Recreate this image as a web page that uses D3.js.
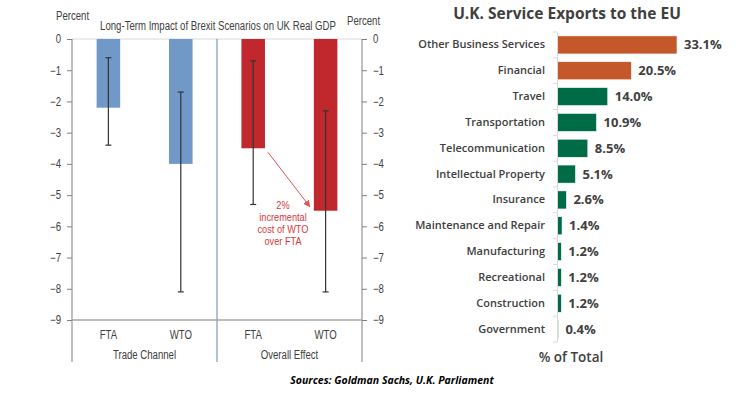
<!DOCTYPE html>
<html>
<head>
<meta charset="utf-8">
<script src="https://cdn.jsdelivr.net/npm/d3@7"></script>
<style>
  body { margin: 0; background: #fff; }
  svg text { fill: #404040; }
  .gdp text { font-family: "Liberation Sans Narrow", "Arial Narrow", "Liberation Sans", sans-serif; font-size: 11px; }
  .exp text { font-family: "Open Sans", sans-serif; }
</style>
</head>
<body>
<script>
// left chart: long-term GDP impact (percent)
var scenarios = ["FTA", "WTO", "FTA", "WTO"];
var groups = ["Trade Channel", "Overall Effect"];
var impact = [-2.2, -4.0, -3.5, -5.5];
var errHigh = [-0.6, -1.7, -0.7, -2.3];
var errLow = [-3.4, -8.1, -5.3, -8.1];
var gdpTicks = [0, -1, -2, -3, -4, -5, -6, -7, -8, -9];
var note = ["2%", "incremental", "cost of WTO", "over FTA"];

// right chart: service exports
var services = ["Other Business Services", "Financial", "Travel", "Transportation",
  "Telecommunication", "Intellectual Property", "Insurance", "Maintenance and Repair",
  "Manufacturing", "Recreational", "Construction", "Government"];
var shares = [33.1, 20.5, 14.0, 10.9, 8.5, 5.1, 2.6, 1.4, 1.2, 1.2, 1.2, 0.4];

var svg = d3.select("body").append("svg")
  .attr("width", 737)
  .attr("height", 393);

// ---- left chart ----
var g1 = svg.append("g").attr("class", "gdp");
var axL = 72, axR = 362, split = 217;
var y = d3.scaleLinear().domain([0, -9]).range([39, 320]);
var x = d3.scaleBand().domain(d3.range(4)).range([axL, axR]).paddingInner(0.675).paddingOuter(0.34);
var barCol = ["#7099c8", "#7099c8", "#c0282d", "#c0282d"];

g1.append("line").attr("x1", axL).attr("x2", axR).attr("y1", y(0)).attr("y2", y(0))
  .attr("stroke", "#d9d9d9");

g1.selectAll(".bar").data(impact).enter().append("rect")
  .attr("x", function(d, i) { return x(i); })
  .attr("y", y(0))
  .attr("width", x.bandwidth())
  .attr("height", function(d) { return y(d) - y(0); })
  .attr("fill", function(d, i) { return barCol[i]; });

// error bars
var eb = g1.selectAll(".err").data(impact).enter().append("g");
eb.append("line")
  .attr("x1", function(d, i) { return x(i) + x.bandwidth() / 2; })
  .attr("x2", function(d, i) { return x(i) + x.bandwidth() / 2; })
  .attr("y1", function(d, i) { return y(errHigh[i]); })
  .attr("y2", function(d, i) { return y(errLow[i]); })
  .attr("stroke", "#333").attr("stroke-width", 1.2);
[errHigh, errLow].forEach(function(arr) {
  eb.append("line")
    .attr("x1", function(d, i) { return x(i) + x.bandwidth() / 2 - 3; })
    .attr("x2", function(d, i) { return x(i) + x.bandwidth() / 2 + 3; })
    .attr("y1", function(d, i) { return y(arr[i]); })
    .attr("y2", function(d, i) { return y(arr[i]); })
    .attr("stroke", "#333").attr("stroke-width", 1.2);
});

var yl = g1.append("g").attr("transform", "translate(" + axL + ",0)")
  .call(d3.axisLeft(y).tickValues(gdpTicks).tickSize(5).tickPadding(6).tickFormat(d3.format("d")));
var yr = g1.append("g").attr("transform", "translate(" + axR + ",0)")
  .call(d3.axisRight(y).tickValues(gdpTicks).tickSize(5).tickPadding(6).tickFormat(d3.format("d")));
[yl, yr].forEach(function(a) {
  a.select(".domain").remove();
  a.selectAll("line").attr("stroke", "#808080");
  a.selectAll("text").style("font-size", "12px").attr("fill", "#404040");
});
// axis lines extend below the baseline
[axL, axR].forEach(function(px) {
  g1.append("line").attr("x1", px).attr("x2", px).attr("y1", y(0)).attr("y2", 362)
    .attr("stroke", "#808080");
});
g1.append("line").attr("x1", split).attr("x2", split).attr("y1", y(0)).attr("y2", 362)
  .attr("stroke", "#5b87b5");
g1.append("line").attr("x1", axL).attr("x2", axR).attr("y1", y(-9)).attr("y2", y(-9))
  .attr("stroke", "#a6a6a6").attr("stroke-width", 1.5);

g1.selectAll(".xl").data(scenarios).enter().append("text")
  .attr("x", function(d, i) { return x(i) + x.bandwidth() / 2; })
  .attr("y", 339)
  .attr("text-anchor", "middle")
  .style("font-size", "12px")
  .text(function(d) { return d; });
g1.selectAll(".gl").data(groups).enter().append("text")
  .attr("x", function(d, i) { return i === 0 ? (axL + split) / 2 : (split + axR) / 2; })
  .attr("y", 359)
  .attr("text-anchor", "middle")
  .style("font-size", "12px")
  .text(function(d) { return d; });

g1.append("text").attr("x", 56).attr("y", 20).style("font-size", "12px").text("Percent");
g1.append("text").attr("x", 347).attr("y", 25).style("font-size", "12px").text("Percent");
g1.append("text").attr("x", 218).attr("y", 30).attr("text-anchor", "middle")
  .style("font-size", "12px")
  .text("Long-Term Impact of Brexit Scenarios on UK Real GDP");

// annotation
svg.append("defs").append("marker")
  .attr("id", "arr").attr("viewBox", "0 0 10 10").attr("refX", 9).attr("refY", 5)
  .attr("markerWidth", 7).attr("markerHeight", 7).attr("orient", "auto")
  .append("path").attr("d", "M0,0L10,5L0,10z").attr("fill", "#e0555a");
g1.append("line")
  .attr("x1", x(2) + x.bandwidth() + 3).attr("y1", y(impact[2]) + 4)
  .attr("x2", x(3) - 4).attr("y2", y(impact[3]) - 4)
  .attr("stroke", "#e0555a").attr("stroke-width", 1)
  .attr("marker-end", "url(#arr)");
g1.selectAll(".ann").data(note).enter().append("text")
  .attr("x", 283)
  .attr("y", function(d, i) { return 209 + i * 12; })
  .attr("text-anchor", "middle")
  .style("font-size", "11.5px")
  .style("fill", "#d9373d")
  .text(function(d) { return d; });

// no narrow font installed: squeeze the left chart's texts
g1.selectAll("text").each(function() {
  var w = this.getComputedTextLength();
  d3.select(this).attr("textLength", w * 0.8).attr("lengthAdjust", "spacingAndGlyphs");
});

// ---- right chart ----
var g2 = svg.append("g").attr("class", "exp");
var bx = d3.scaleLinear().domain([0, 33.1]).range([557, 677]);
var by = d3.scaleBand().domain(services).range([32, 342]).paddingInner(0.3).paddingOuter(0.15);

g2.append("text").attr("x", 567).attr("y", 19).attr("text-anchor", "middle")
  .style("font-size", "15.5px").style("font-weight", "bold").attr("fill", "#404040")
  .text("U.K. Service Exports to the EU");

g2.selectAll(".sb").data(shares).enter().append("rect")
  .attr("x", bx(0))
  .attr("y", function(d, i) { return by(services[i]); })
  .attr("width", function(d) { return bx(d) - bx(0); })
  .attr("height", by.bandwidth())
  .attr("fill", function(d, i) { return i < 2 ? "#c5582a" : "#006b47"; })
  .attr("stroke", "#fff").attr("stroke-width", 0.6);

var ya = g2.append("g").attr("transform", "translate(557,0)")
  .call(d3.axisLeft(by).tickSize(0).tickPadding(12));
ya.select(".domain").attr("stroke", "#d9d9d9");
ya.selectAll("text").style("font-size", "11px").style("font-weight", "600").attr("fill", "#595959");
// band separators on the axis
var seps = services.map(function(s) { return by(s) - by.step() * by.paddingInner() / 2; });
seps.push(342);
g2.selectAll(".sep").data(seps).enter().append("line")
  .attr("x1", 553).attr("x2", 557)
  .attr("y1", function(d) { return d; }).attr("y2", function(d) { return d; })
  .attr("stroke", "#d9d9d9");

g2.selectAll(".vl").data(shares).enter().append("text")
  .attr("x", function(d) { return bx(d) + 7; })
  .attr("y", function(d, i) { return by(services[i]) + by.bandwidth() / 2; })
  .attr("dy", "0.35em")
  .style("font-size", "13px").style("font-weight", "bold")
  .attr("fill", "#404040")
  .text(function(d) { return d.toFixed(1) + "%"; });

g2.append("text").attr("x", 571).attr("y", 362).attr("text-anchor", "middle")
  .style("font-size", "13.5px").style("font-weight", "600").attr("fill", "#595959")
  .text("% of Total");

svg.append("text").attr("x", 392).attr("y", 384).attr("text-anchor", "middle")
  .style("font-family", "'Open Sans', sans-serif").style("font-size", "10.5px")
  .style("font-weight", "bold").style("font-style", "italic").style("fill", "#000")
  .text("Sources: Goldman Sachs, U.K. Parliament");
</script>
</body>
</html>
